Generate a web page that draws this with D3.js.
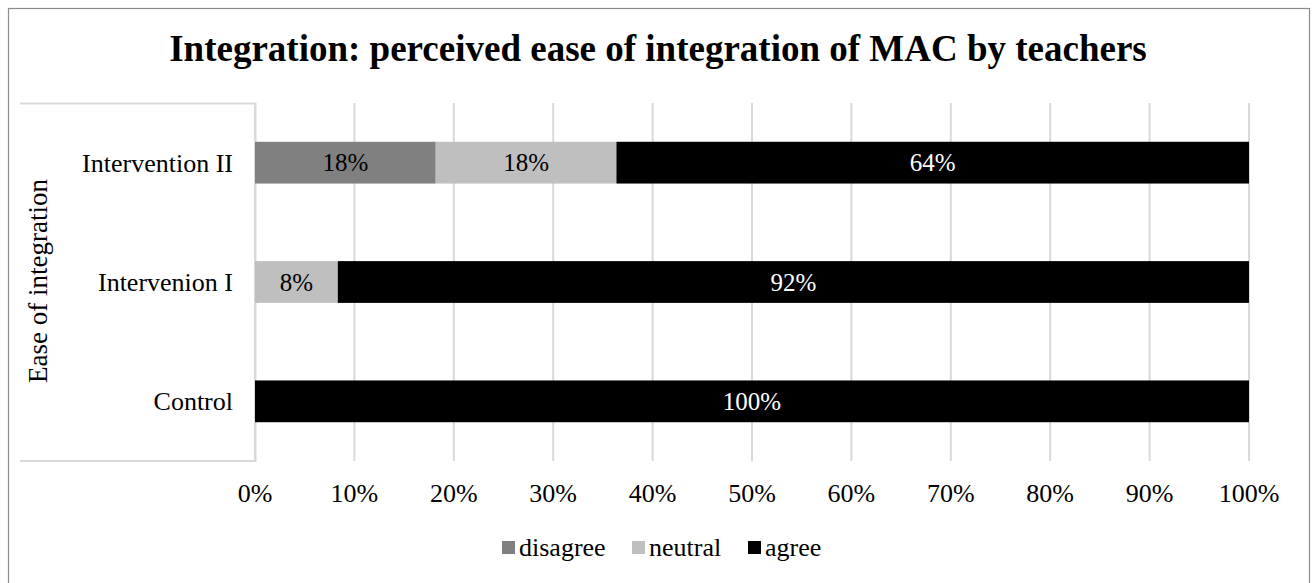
<!DOCTYPE html>
<html>
<head>
<meta charset="utf-8">
<script src="https://cdn.jsdelivr.net/npm/d3@7"></script>
<style>
  body { margin: 0; background: #fff; }
  text { font-family: "Liberation Serif", "Times New Roman", serif; }
</style>
</head>
<body>
<script>
var categories = ['Intervention II', 'Intervenion I', 'Control']
var seriesNames = ['disagree', 'neutral', 'agree']
var disagree = [18.18, 0, 0]
var neutral = [18.18, 8.33, 0]
var agree = [63.64, 91.67, 100]
var tickValues = [0, 10, 20, 30, 40, 50, 60, 70, 80, 90, 100]
var colors = ['#808080', '#bfbfbf', '#000000']

var W = 1316, H = 583
var margin = {top: 103, right: 67, bottom: 122, left: 255}
var width = W - margin.left - margin.right
var height = H - margin.top - margin.bottom

var svg = d3.select('body').append('svg')
  .attr('width', W)
  .attr('height', H)

// outer frame
svg.append('rect')
  .attr('x', 8.5).attr('y', 8.5)
  .attr('width', 1301).attr('height', 600)
  .attr('fill', 'none').attr('stroke', '#8c8c8c').attr('stroke-width', 1.2)

svg.append('text')
  .attr('x', 658).attr('y', 61)
  .attr('text-anchor', 'middle')
  .attr('font-size', 37).attr('font-weight', 'bold')
  .text('Integration: perceived ease of integration of MAC by teachers')

var rows = categories.map(function (c, i) {
  return {cat: c, disagree: disagree[i], neutral: neutral[i], agree: agree[i]}
})
var stacked = d3.stack().keys(seriesNames)(rows)

var x = d3.scaleLinear().domain([0, 100]).range([0, width])
var y = d3.scaleBand().domain(categories).range([0, height]).paddingInner(0.65).paddingOuter(0.325)

var g = svg.append('g')
  .attr('transform', `translate(${margin.left}, ${margin.top})`)

// category box lines
g.append('path')
  .attr('d', `M${20 - margin.left},0.5H0.5V${height}H${20 - margin.left}`)
  .attr('fill', 'none').attr('stroke', '#d9d9d9').attr('stroke-width', 2)

// gridlines
g.selectAll('.grid')
  .data(tickValues)
  .enter().append('line')
  .attr('x1', d => x(d)).attr('x2', d => x(d))
  .attr('y1', 0).attr('y2', height)
  .attr('stroke', '#d9d9d9').attr('stroke-width', 2)

// x tick labels
g.selectAll('.tick-label')
  .data(tickValues)
  .enter().append('text')
  .attr('x', d => x(d)).attr('y', height + 32)
  .attr('dy', '0.35em')
  .attr('text-anchor', 'middle')
  .attr('font-size', 26)
  .text(d => d + '%')

// category labels
g.selectAll('.cat')
  .data(categories)
  .enter().append('text')
  .attr('x', -22).attr('y', d => y(d) + y.bandwidth() / 2)
  .attr('dy', '0.35em')
  .attr('text-anchor', 'end')
  .attr('font-size', 26)
  .text(d => d)

svg.append('text')
  .attr('transform', 'translate(38, 281) rotate(-90)')
  .attr('dy', '0.35em')
  .attr('text-anchor', 'middle')
  .attr('font-size', 27)
  .text('Ease of integration')

// bars
var layers = g.selectAll('.layer')
  .data(stacked)
  .enter().append('g')
  .attr('fill', (d, i) => colors[i])

layers.selectAll('rect')
  .data(d => d.filter(p => p[1] - p[0] > 0))
  .enter().append('rect')
  .attr('x', d => x(d[0]))
  .attr('y', d => y(d.data.cat))
  .attr('width', d => x(d[1]) - x(d[0]))
  .attr('height', y.bandwidth())

// value labels
stacked.forEach(function (s, si) {
  g.selectAll('.lab' + si)
    .data(s.filter(p => p[1] - p[0] > 0))
    .enter().append('text')
    .attr('x', d => x((d[0] + d[1]) / 2))
    .attr('y', d => y(d.data.cat) + y.bandwidth() / 2)
    .attr('dy', '0.35em')
    .attr('text-anchor', 'middle')
    .attr('font-size', 25)
    .attr('fill', si === 2 ? '#fff' : '#000')
    .text(d => Math.round(d[1] - d[0]) + '%')
})

// legend
var legend = svg.append('g').attr('transform', 'translate(0, 547)')
var legendX = [502, 632, 748]
seriesNames.forEach(function (n, i) {
  legend.append('rect')
    .attr('x', legendX[i]).attr('y', -6)
    .attr('width', 13).attr('height', 13)
    .attr('fill', colors[i])
  legend.append('text')
    .attr('x', legendX[i] + 17).attr('y', 0)
    .attr('dy', '0.35em')
    .attr('font-size', 26)
    .text(n)
})
</script>
</body>
</html>
